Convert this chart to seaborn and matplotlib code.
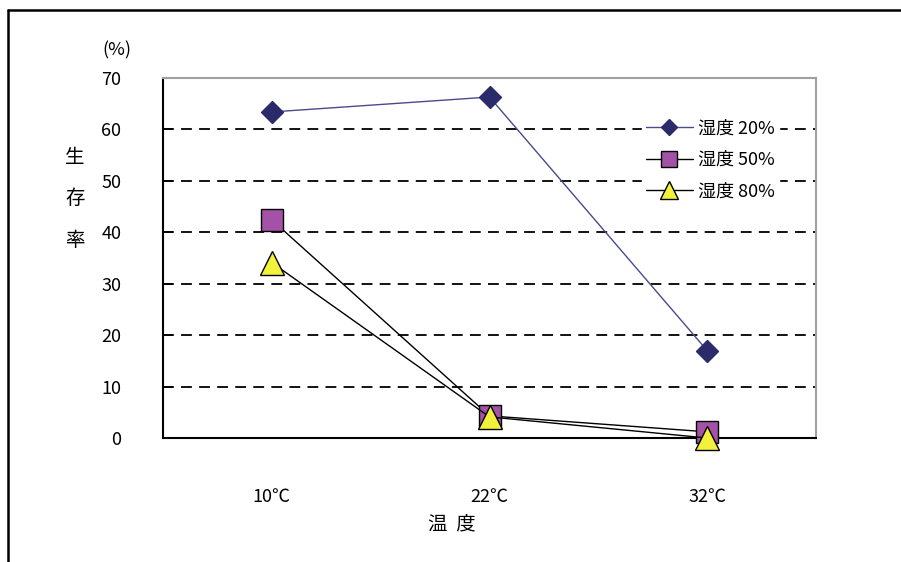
import pandas as pd
import seaborn as sns
import matplotlib
import matplotlib.pyplot as plt
from matplotlib.lines import Line2D

matplotlib.rcParams['figure.dpi'] = 100

# data
temps = ['10℃', '22℃', '32℃']
hum_labels = ['湿度 20%', '湿度 50%', '湿度 80%']
hum20 = [63.4, 66.3, 17.0]
hum50 = [42.4, 4.3, 1.2]
hum80 = [34.1, 4.1, 0.0]
y_ticks = [0, 10, 20, 30, 40, 50, 60, 70]

sns.set_theme(style='white')
plt.rcParams['font.family'] = ['Noto Sans CJK JP', 'DejaVu Sans']
plt.rcParams['text.color'] = 'black'
plt.rcParams['xtick.color'] = 'black'
plt.rcParams['ytick.color'] = 'black'

df = pd.DataFrame({
    'temp': temps * 3,
    'rate': hum20 + hum50 + hum80,
    'hum': [hum_labels[0]] * 3 + [hum_labels[1]] * 3 + [hum_labels[2]] * 3,
})

styles = {
    hum_labels[0]: dict(color='#4a4a8c', marker='D', markersize=11,
                        markerfacecolor='#2b2b6b', markeredgecolor='#2b2b6b', linewidth=1.0),
    hum_labels[1]: dict(color='black', marker='s', markersize=16,
                        markerfacecolor='#a451a8', markeredgecolor='black', linewidth=1.0),
    hum_labels[2]: dict(color='black', marker='^', markersize=17,
                        markerfacecolor='#f2f23c', markeredgecolor='black', linewidth=1.0),
}

fig = plt.figure(figsize=(9.01, 5.62))
ax = fig.add_axes([163 / 901, 1 - 438 / 562, 653 / 901, 360 / 562])

for lab in hum_labels:
    sub = df[df['hum'] == lab]
    sns.lineplot(data=sub, x='temp', y='rate', ax=ax, label=lab,
                 markeredgewidth=1.0, clip_on=False, zorder=3, **styles[lab])

ax.set_xlim(-0.5, 2.5)
ax.set_ylim(0, 70)
ax.set_yticks(y_ticks)
ax.set_yticklabels([str(v) for v in y_ticks], fontsize=13)
ax.set_xticks(range(len(temps)))
ax.set_xticklabels(temps, fontsize=13)
ax.set_xticks([0.5, 1.5], minor=True)
ax.tick_params(axis='x', which='major', length=0, pad=36)
ax.tick_params(axis='x', which='minor', direction='in', length=7, width=1.2, color='black')
ax.tick_params(axis='y', which='major', direction='in', length=7, width=1.2, color='black',
               pad=30, left=True)
ax.set_xlabel('')
ax.set_ylabel('')

for v in y_ticks[1:-1]:
    ax.axhline(v, color='black', linestyle=(0, (6, 4)), linewidth=1.3, zorder=1)

for side in ['left', 'bottom']:
    ax.spines[side].set_color('black')
    ax.spines[side].set_linewidth(1.5)
for side in ['top', 'right']:
    ax.spines[side].set_color('#a0a0a0')
    ax.spines[side].set_linewidth(1.5)

leg = ax.legend(loc='upper left', bbox_to_anchor=(0.72, 0.92), frameon=True,
                fontsize=13, handlelength=2.6, labelspacing=0.75, markerscale=0.75,
                borderpad=0.2, handletextpad=0.3)
leg.get_frame().set_edgecolor('white')
leg.get_frame().set_facecolor('white')
leg.get_frame().set_alpha(1)

fig.text(117 / 901, 1 - 50 / 562, '(%)', ha='center', va='center', fontsize=13)
fig.text(75 / 901, 1 - 199 / 562, '生\n存\n率', ha='center', va='center',
         fontsize=14, linespacing=2.3)
fig.text(452 / 901, 1 - 524 / 562, '温  度', ha='center', va='center', fontsize=14)

# outer chart frame (cropped at right and bottom)
fig.add_artist(Line2D([8 / 901, 1.0], [1 - 10 / 562, 1 - 10 / 562],
                      transform=fig.transFigure, color='black', linewidth=1.8))
fig.add_artist(Line2D([8 / 901, 8 / 901], [0.0, 1 - 10 / 562],
                      transform=fig.transFigure, color='black', linewidth=1.8))

fig.savefig('out.png', dpi=100)
